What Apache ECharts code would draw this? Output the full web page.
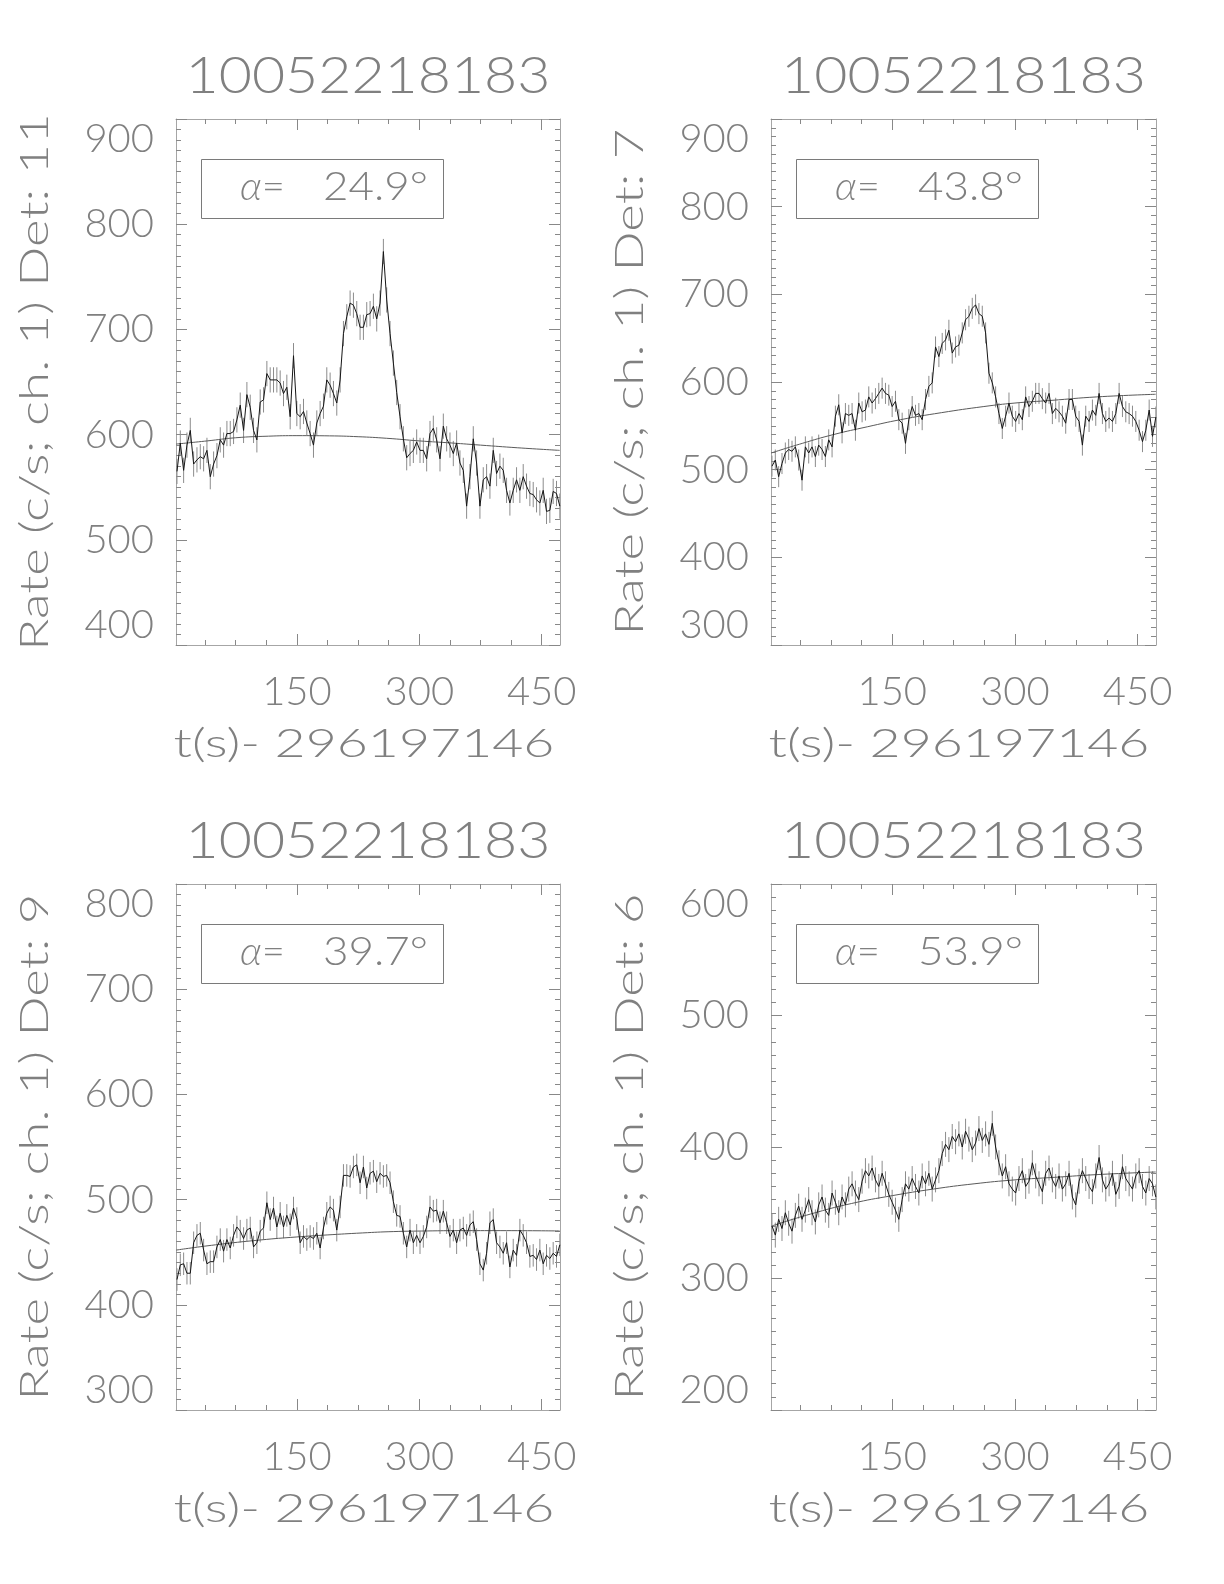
<!DOCTYPE html>
<html><head><meta charset="utf-8">
<script src="https://cdn.jsdelivr.net/npm/echarts@6/dist/echarts.min.js"></script>
<style>html,body{margin:0;padding:0;background:#fff}#c{width:1224px;height:1584px}</style>
</head><body><div id="c"></div>
<script>
// ---------------- data ----------------
const OBS_ID = '10052218183';
const X_TITLE = 't(s)- 296197146';
const Y_TITLE_PREFIX = 'Rate (c/s; ch. 1) Det: ';
const DETECTORS = ['11', '7', '9', '6'];
const ALPHAS = ['24.9', '43.8', '39.7', '53.9'];

const BIN_START = 3.0;   // s, centre of first bin
const BIN_WIDTH = 4.08;  // s
const X_MIN = 1.8, X_MAX = 472.4;
const X_MAJOR = [150, 300, 450];
const X_MINOR = [37.5, 75, 112.5, 150, 187.5, 225, 262.5, 300, 337.5, 375, 412.5, 450];
const Y_MIN = [400, 300, 300, 200];
const Y_MAX = [900, 900, 800, 600];

const rateDet11 = [565,592,566,590,604,572,576,579,577,585,560,572,580,595,590,601,601,603,614,628,
  604,638,626,604,595,631,633,658,652,652,652,649,639,645,617,675,620,617,622,611,
  601,590,611,620,627,652,647,639,630,652,696,712,725,723,715,702,702,714,715,722,
  710,725,774,728,696,668,640,617,596,578,582,585,593,585,585,577,601,606,595,577,
  608,596,590,582,592,573,566,532,560,596,573,532,557,560,551,585,563,570,566,547,
  535,547,557,547,560,551,544,543,538,535,547,527,528,546,544,532];
const rateDet7 = [504,511,492,507,519,523,521,526,511,488,526,519,526,515,528,523,515,534,526,561,
  574,542,564,562,564,545,576,566,568,583,576,581,587,593,587,585,572,578,557,553,
  530,557,572,562,564,557,580,595,599,640,629,644,648,659,633,640,642,656,671,675,
  684,688,678,675,656,610,599,583,564,547,561,576,561,555,564,557,583,572,578,587,
  587,581,576,587,564,570,566,561,553,580,580,561,555,528,561,555,568,562,587,564,
  555,559,555,564,587,572,566,564,561,555,545,532,545,568,538,560];
const rateDet9 = [424,438,439,430,430,459,466,468,452,439,441,441,455,462,451,462,454,466,474,470,
  463,471,473,455,459,470,473,497,481,492,474,487,474,485,476,492,482,459,465,462,
  465,463,468,454,473,487,493,490,471,493,523,523,522,531,533,516,531,511,525,527,
  517,525,522,523,516,498,485,484,468,455,471,459,466,459,465,474,493,489,490,478,
  489,478,465,471,459,471,473,466,476,479,462,439,433,449,478,481,459,455,449,459,
  436,452,447,471,466,459,446,447,443,452,439,447,444,449,446,457];
const rateDet6 = [340,333,345,338,350,342,336,348,355,345,352,360,350,343,356,362,352,348,365,358,
  350,362,356,368,372,365,360,374,382,378,384,375,370,380,372,364,358,352,345,360,
  372,368,376,370,365,378,372,380,368,375,382,395,402,398,408,404,410,400,412,406,
  398,403,414,405,410,402,418,400,388,378,385,372,368,365,376,382,370,374,388,378,
  372,366,380,384,375,370,378,368,372,380,362,356,374,382,376,370,366,378,392,375,
  368,372,380,364,370,385,376,372,368,378,382,370,365,376,372,362];
const ERR_HALF = [12, 12, 10.7, 9.5];

const bgTimeDet11 = [2, 40, 75, 115, 150, 190, 225, 260, 300, 340, 375, 420, 472];
const bgDet11 = [591, 594, 597, 598.5, 599, 598.8, 598, 596.5, 594, 592, 590, 587.5, 585];
const bgTimeDet7 = [2, 40, 78, 120, 160, 210, 262, 300, 344, 400, 472];
const bgDet7 = [519, 530, 540, 549, 557, 565, 572, 576, 579, 583, 586];
const bgTimeDet9 = [2, 50, 105, 150, 187, 230, 268, 310, 350, 400, 472];
const bgDet9 = [452, 457, 461.6, 464.5, 466.4, 468.3, 469.6, 470.2, 470.5, 470.5, 470.2];
const bgTimeDet6 = [3, 50, 100, 150, 200, 250, 300, 350, 400, 472];
const bgDet6 = [340, 349, 357, 363, 368, 372, 375, 377, 379, 381];

const RATES = [rateDet11, rateDet7, rateDet9, rateDet6];
const BG_T = [bgTimeDet11, bgTimeDet7, bgTimeDet9, bgTimeDet6];
const BG_V = [bgDet11, bgDet7, bgDet9, bgDet6];

// ---------------- style / layout ----------------
const FONT = 'Lato';
const FW = 300;
const TEXT_C = '#808080';
const AXIS_C = '#a6a6a6';
const TICK_C = '#888888';
const GRIDS = [
  {left: 176, top: 119, width: 384, height: 526},
  {left: 771, top: 119, width: 385, height: 526},
  {left: 176, top: 884, width: 384, height: 526},
  {left: 771, top: 884, width: 385, height: 526}
];
const TICK_FS = 40, NAME_FS = 40, TITLE_FS = 52, ANN_FS = 40;

const xAxes = [], yAxes = [], series = [], graphics = [];

GRIDS.forEach((g, gi) => {
  [['bottom', true], ['bottom', false], ['top', true], ['top', false]].forEach(([pos, major]) => {
    const labels = (pos === 'bottom' && major);
    xAxes.push({
      type: 'value', gridIndex: gi, position: pos, min: X_MIN, max: X_MAX,
      axisLine: {show: major, onZero: false, lineStyle: {color: AXIS_C, width: 1}},
      axisTick: {show: true, inside: true, length: major ? 11 : 5,
                 customValues: major ? X_MAJOR : X_MINOR, lineStyle: {color: TICK_C, width: 1}},
      axisLabel: {show: labels, customValues: X_MAJOR, margin: 27, color: TEXT_C,
                  fontFamily: FONT, fontWeight: FW, fontSize: TICK_FS},
      splitLine: {show: false}
    });
  });
  [['left', true], ['left', false], ['right', true], ['right', false]].forEach(([pos, major]) => {
    const labels = (pos === 'left' && major);
    yAxes.push({
      type: 'value', gridIndex: gi, position: pos, min: Y_MIN[gi], max: Y_MAX[gi],
      interval: major ? 100 : 10,
      axisLine: {show: major, onZero: false, lineStyle: {color: AXIS_C, width: 1}},
      axisTick: {show: true, inside: true, length: major ? 11 : 5, lineStyle: {color: TICK_C, width: 1}},
      axisLabel: {show: labels, margin: 22, color: TEXT_C, fontFamily: FONT, fontWeight: FW,
                  fontSize: TICK_FS, showMinLabel: true, showMaxLabel: true,
                  verticalAlignMinLabel: 'bottom', verticalAlignMaxLabel: 'top'},
      splitLine: {show: false}
    });
  });

  const xi = gi * 4, yi = gi * 4;
  const pts = RATES[gi].map((v, k) => [BIN_START + k * BIN_WIDTH, v]);
  const eh = ERR_HALF[gi];
  series.push({
    type: 'custom', xAxisIndex: xi, yAxisIndex: yi, data: pts, silent: true, z: 1, clip: true,
    renderItem: (params, api) => {
      const t = api.value(0), v = api.value(1);
      const a = api.coord([t, v - eh]), b = api.coord([t, v + eh]);
      return {type: 'line', shape: {x1: a[0], y1: a[1], x2: b[0], y2: b[1]},
              style: {stroke: '#8c8c8c', lineWidth: 1}};
    }
  });
  series.push({
    type: 'line', xAxisIndex: xi, yAxisIndex: yi, data: pts, symbol: 'none', showSymbol: false,
    lineStyle: {color: '#161616', width: 1}, z: 3, silent: true
  });
  series.push({
    type: 'line', xAxisIndex: xi, yAxisIndex: yi,
    data: BG_T[gi].map((t, k) => [t, BG_V[gi][k]]), symbol: 'none', smooth: true,
    lineStyle: {color: '#5a5a5a', width: 1}, z: 2, silent: true
  });

  const txt = (extra) => Object.assign({fill: TEXT_C, fontFamily: FONT, fontWeight: FW}, extra);
  // panel title
  graphics.push({
    type: 'text', x: g.left + g.width / 2, y: g.top - 43, scaleX: 1.1, silent: true,
    style: txt({text: OBS_ID, fontSize: TITLE_FS, align: 'center', verticalAlign: 'middle'})
  });
  // x axis title
  graphics.push({
    type: 'text', x: g.left + 188, y: g.top + g.height + 99, scaleX: 1.34, silent: true,
    style: txt({text: X_TITLE, fontSize: NAME_FS, align: 'center', verticalAlign: 'middle'})
  });
  // y axis title
  graphics.push({
    type: 'text', x: g.left - 141, y: g.top + g.height / 2, rotation: Math.PI / 2, scaleX: 1.32,
    silent: true,
    style: txt({text: Y_TITLE_PREFIX + DETECTORS[gi], fontSize: NAME_FS, align: 'center',
                verticalAlign: 'middle'})
  });
  // annotation box
  graphics.push({
    type: 'rect', silent: true,
    shape: {x: g.left + 25.5, y: g.top + 40.5, width: 242, height: 59},
    style: {fill: 'none', stroke: '#7a7a7a', lineWidth: 1}
  });
  graphics.push({
    type: 'text', x: g.left + 64, y: g.top + 68, silent: true,
    style: txt({text: '{a|\u03b1}=', fontSize: ANN_FS, align: 'left', verticalAlign: 'middle',
            rich: {a: {fontStyle: 'italic', fontFamily: FONT, fontWeight: FW, fontSize: ANN_FS, fill: TEXT_C}}})
  });
  graphics.push({
    type: 'text', x: g.left + 147, y: g.top + 68, scaleX: 1.1, silent: true,
    style: txt({text: ALPHAS[gi] + '\u00b0', fontSize: ANN_FS, align: 'left', verticalAlign: 'middle'})
  });
});

const chart = echarts.init(document.getElementById('c'), null, {renderer: 'canvas'});
chart.setOption({
  animation: false,
  backgroundColor: '#ffffff',
  grid: GRIDS.map(g => Object.assign({containLabel: false}, g)),
  xAxis: xAxes,
  yAxis: yAxes,
  series: series,
  graphic: graphics
});
</script></body></html>
